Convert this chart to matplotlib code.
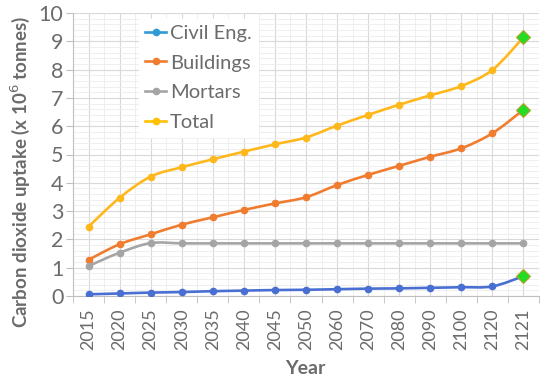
import numpy as np
import matplotlib
matplotlib.use("Agg")
import matplotlib.pyplot as plt
from matplotlib.path import Path
from matplotlib.patches import PathPatch
from matplotlib.lines import Line2D
from matplotlib.ticker import MultipleLocator

years = ["2015", "2020", "2025", "2030", "2035", "2040", "2045", "2050",
         "2060", "2070", "2080", "2090", "2100", "2120", "2121"]
civil = [0.06, 0.09, 0.12, 0.14, 0.17, 0.19, 0.21, 0.22, 0.24, 0.26, 0.27, 0.29, 0.31, 0.34, 0.70]
buildings = [1.28, 1.83, 2.18, 2.52, 2.78, 3.04, 3.27, 3.49, 3.92, 4.28, 4.60, 4.92, 5.22, 5.75, 6.58]
mortars = [1.06, 1.53, 1.87, 1.86, 1.86, 1.86, 1.86, 1.86, 1.86, 1.86, 1.86, 1.86, 1.86, 1.86, 1.86]
total = [2.45, 3.47, 4.22, 4.55, 4.83, 5.10, 5.36, 5.60, 6.02, 6.40, 6.76, 7.09, 7.42, 7.99, 9.14]

series = [("Civil Eng.", civil, "#4a6fd3", "#2e9bd6"),
          ("Buildings", buildings, "#f07c30", "#f07c30"),
          ("Mortars", mortars, "#a5a5a5", "#a5a5a5"),
          ("Total", total, "#ffb81c", "#ffc000")]

plt.rcParams['font.family'] = ['Lato', 'DejaVu Sans']
GRAY = "#6b6b6b"

fig = plt.figure(figsize=(5.5, 3.81), dpi=100)
ax = fig.add_axes([73/550, 1-296/381, (539-73)/550, (296-13)/381])

x = np.arange(len(years))


def smooth_path(xs, ys, t=1/6):
    verts = [(xs[0], ys[0])]
    codes = [Path.MOVETO]
    n = len(xs)
    for i in range(n - 1):
        p0 = (xs[max(i-1, 0)], ys[max(i-1, 0)])
        p1 = (xs[i], ys[i])
        p2 = (xs[i+1], ys[i+1])
        p3 = (xs[min(i+2, n-1)], ys[min(i+2, n-1)])
        c1 = (p1[0] + (p2[0]-p0[0])*t, p1[1] + (p2[1]-p0[1])*t)
        c2 = (p2[0] - (p3[0]-p1[0])*t, p2[1] - (p3[1]-p1[1])*t)
        verts += [c1, c2, p2]
        codes += [Path.CURVE4]*3
    return Path(verts, codes)


handles = []
for name, vals, lc, legc in series:
    patch = PathPatch(smooth_path(x, vals), facecolor="none", edgecolor=lc, lw=1.9, zorder=3)
    ax.add_patch(patch)
    ax.plot(x, vals, ls="none", marker="o", ms=4.5, color=lc, zorder=4)
    handles.append(Line2D([], [], color=legc, lw=1.9, marker="o", ms=4.5))

for vals in (civil, buildings, total):
    ax.plot(x[-1], vals[-1], ls="none", marker="D", ms=7, mfc="#22dd22",
            mec="#b8a030", mew=0.8, zorder=5)

ax.set_xlim(-0.5, len(years) - 0.5)
ax.set_ylim(0, 10)
ax.yaxis.set_major_locator(MultipleLocator(1))
ax.yaxis.set_minor_locator(MultipleLocator(0.2))
ax.set_xticks(x)
ax.set_xticklabels(years, rotation=90)
ax.set_xticks(np.arange(-0.5, len(years), 1), minor=True)

ax.grid(which="major", axis="both", color="#d9d9d9", lw=0.8, zorder=0)
ax.grid(which="minor", axis="both", color="#ececec", lw=0.6, zorder=0)
ax.set_axisbelow(True)

for s in ("top", "right"):
    ax.spines[s].set_visible(False)
ax.spines["left"].set_color("#bfbfbf")
ax.spines["bottom"].set_color("#bfbfbf")

ax.tick_params(axis="y", which="major", labelsize=15.5, colors=GRAY, length=5, color="#bfbfbf", pad=2)
ax.tick_params(axis="y", which="minor", length=0)
ax.tick_params(axis="x", which="major", labelsize=13, colors=GRAY, length=0, pad=9)
ax.tick_params(axis="x", which="minor", length=5, color="#bfbfbf")

ax.set_ylabel("Carbon dioxide uptake (x 10$^6$ tonnes)", fontsize=13.5, fontweight="bold",
              color=GRAY)
ax.yaxis.set_label_coords(-53/466, (296-172)/283)
ax.set_xlabel("Year", fontsize=14, fontweight="bold", color=GRAY)
ax.xaxis.set_label_coords((305-73)/466, -(368-296)/283)
ax.xaxis.label.set_va("center")
ax.yaxis.label.set_va("center")

leg = ax.legend(handles, [s[0] for s in series], loc="upper left",
                bbox_to_anchor=(0.12, 1.015), frameon=True, fontsize=14.5,
                labelcolor=GRAY, handlelength=1.05, handletextpad=0.2,
                labelspacing=0.62, borderpad=0.3, fancybox=False)
leg.get_frame().set_edgecolor("white")
leg.get_frame().set_facecolor("white")
leg.get_frame().set_alpha(1)

fig.savefig("out.png", dpi=100)
